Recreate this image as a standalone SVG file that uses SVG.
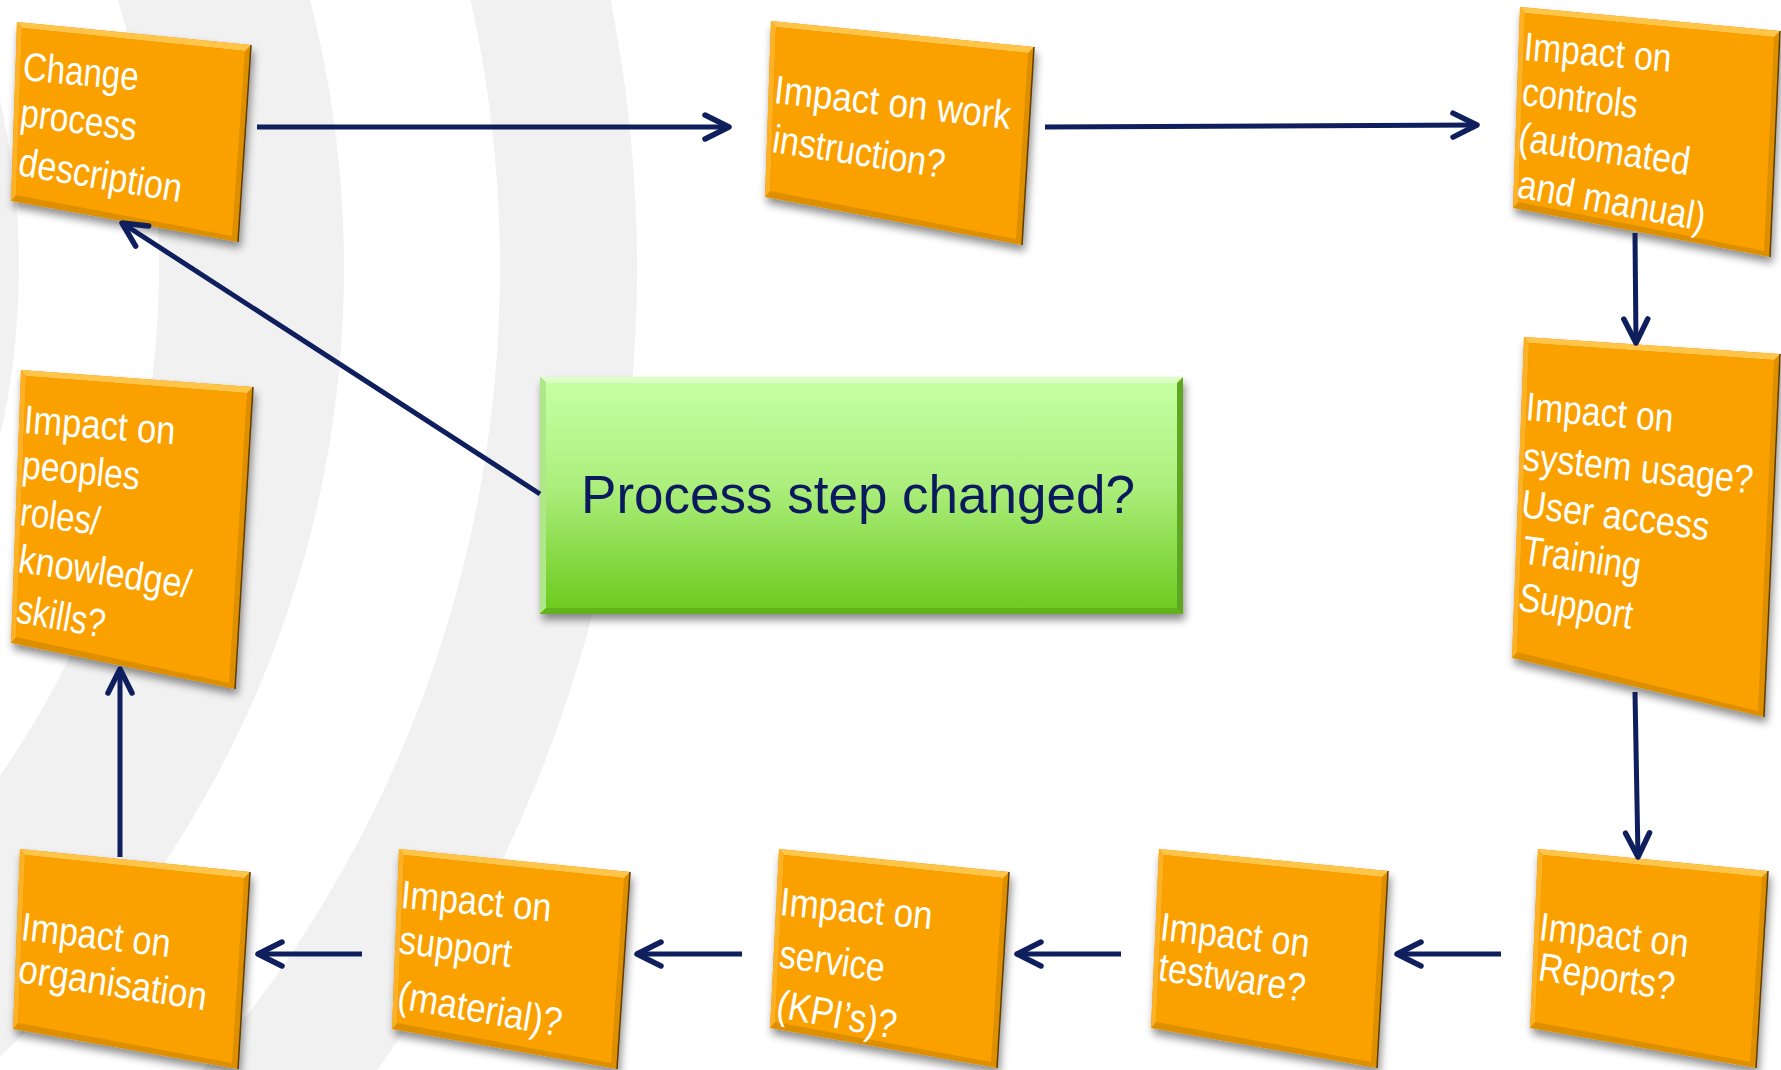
<svg xmlns="http://www.w3.org/2000/svg" width="1781" height="1070" viewBox="0 0 1781 1070">
<defs>
<style>
.rg{fill:#f1f1f1}
.rw{fill:#ffffff}
.edge{fill:#dd8f00}
.top{fill:#ffc54a}
.left{fill:#fdb226}
.face{fill:#faa102}
.rim{fill:none;stroke:#5e3c00;stroke-width:1.5}
.lbl{font-family:"Liberation Sans",Arial,sans-serif;font-size:40px;fill:#ffffff}
.conn{fill:none;stroke:#0f1f5e;stroke-width:5;marker-end:url(#ah)}
.main{font-family:"Liberation Sans",Arial,sans-serif;font-size:53px;fill:#0b1a5c}
</style>
<filter id="shadow" x="-20%" y="-20%" width="140%" height="150%">
<feGaussianBlur in="SourceAlpha" stdDeviation="4"/>
<feOffset dx="2" dy="6"/>
<feComponentTransfer><feFuncA type="linear" slope="0.45"/></feComponentTransfer>
<feMerge><feMergeNode/><feMergeNode in="SourceGraphic"/></feMerge>
</filter>
<linearGradient id="gface" x1="0" y1="0" x2="0" y2="1">
<stop offset="0" stop-color="#c6ffa2"/>
<stop offset="0.45" stop-color="#adef7e"/>
<stop offset="1" stop-color="#6dcb1f"/>
</linearGradient>
<marker id="ah" markerUnits="userSpaceOnUse" viewBox="-30 -16 36 32" refX="0" refY="0" markerWidth="36" markerHeight="32" orient="auto">
<path d="M-24,-12 L0,0 L-24,12" fill="none" stroke="#0f1f5e" stroke-width="5.5" stroke-linecap="round" stroke-linejoin="round"/>
</marker>
</defs>
<rect width="1781" height="1070" fill="#ffffff"/>
<g id="background">
<circle class="rg" cx="-731" cy="268" r="1368"/>
<circle class="rw" cx="-731" cy="268" r="1231"/>
<circle class="rg" cx="-731" cy="268" r="1075"/>
<circle class="rw" cx="-731" cy="268" r="890"/>
<circle class="rg" cx="-731" cy="268" r="750"/>
</g>
<g id="nodes">
<g id="n-change">
<g filter="url(#shadow)">
<polygon class="edge" points="17,22 251,45 238,242 11,201"/>
<polygon class="top" points="17,22 251,45 245,51 22,28"/>
<polygon class="left" points="17,22 22,28 16,195 11,201"/>
<polygon class="face" points="22,28 245,51 232,236 16,195"/>
<path class="rim" d="M251,45 L238,242"/>
</g>
<text class="lbl" transform="translate(22 80) rotate(5.1)" textLength="116" lengthAdjust="spacingAndGlyphs">Change</text>
<text class="lbl" transform="translate(19 126) rotate(7.2)" textLength="117" lengthAdjust="spacingAndGlyphs">process</text>
<text class="lbl" transform="translate(17 175) rotate(9.5)" textLength="165" lengthAdjust="spacingAndGlyphs">description</text>
</g>
<g id="n-work">
<g filter="url(#shadow)">
<polygon class="edge" points="771,21 1034,47 1022,245 765,197"/>
<polygon class="top" points="771,21 1034,47 1028,53 776,27"/>
<polygon class="left" points="771,21 776,27 770,191 765,197"/>
<polygon class="face" points="776,27 1028,53 1016,239 770,191"/>
<path class="rim" d="M1034,47 L1022,245"/>
</g>
<text class="lbl" transform="translate(773 103) rotate(6.3)" textLength="238" lengthAdjust="spacingAndGlyphs">Impact on work</text>
<text class="lbl" transform="translate(771 152) rotate(8.6)" textLength="174" lengthAdjust="spacingAndGlyphs">instruction?</text>
</g>
<g id="n-controls">
<g filter="url(#shadow)">
<polygon class="edge" points="1520,7 1780,31 1770,257 1513,208"/>
<polygon class="top" points="1520,7 1780,31 1774,37 1525,13"/>
<polygon class="left" points="1520,7 1525,13 1518,202 1513,208"/>
<polygon class="face" points="1525,13 1774,37 1764,251 1518,202"/>
<path class="rim" d="M1780,31 L1770,257"/>
</g>
<text class="lbl" transform="translate(1523 60) rotate(4.6)" textLength="148" lengthAdjust="spacingAndGlyphs">Impact on</text>
<text class="lbl" transform="translate(1521 105) rotate(6.5)" textLength="116" lengthAdjust="spacingAndGlyphs">controls</text>
<text class="lbl" transform="translate(1517 150) rotate(8.4)" textLength="173" lengthAdjust="spacingAndGlyphs">(automated</text>
<text class="lbl" transform="translate(1516 197) rotate(10.3)" textLength="190" lengthAdjust="spacingAndGlyphs">and manual)</text>
</g>
<g id="n-peoples">
<g filter="url(#shadow)">
<polygon class="edge" points="21,370 253,387 235,689 11,643"/>
<polygon class="top" points="21,370 253,387 247,393 26,376"/>
<polygon class="left" points="21,370 26,376 16,637 11,643"/>
<polygon class="face" points="26,376 247,393 229,683 16,637"/>
<path class="rim" d="M253,387 L235,689"/>
</g>
<text class="lbl" transform="translate(23 433) rotate(4.3)" textLength="152" lengthAdjust="spacingAndGlyphs">Impact on</text>
<text class="lbl" transform="translate(21 478) rotate(5.7)" textLength="118" lengthAdjust="spacingAndGlyphs">peoples</text>
<text class="lbl" transform="translate(19 525) rotate(7.1)" textLength="80" lengthAdjust="spacingAndGlyphs">roles/</text>
<text class="lbl" transform="translate(17 572) rotate(8.6)" textLength="174" lengthAdjust="spacingAndGlyphs">knowledge/</text>
<text class="lbl" transform="translate(15 622) rotate(10.1)" textLength="89" lengthAdjust="spacingAndGlyphs">skills?</text>
</g>
<g id="n-system">
<g filter="url(#shadow)">
<polygon class="edge" points="1524,337 1780,354 1764,717 1512,658"/>
<polygon class="top" points="1524,337 1780,354 1774,360 1529,343"/>
<polygon class="left" points="1524,337 1529,343 1517,652 1512,658"/>
<polygon class="face" points="1529,343 1774,360 1758,711 1517,652"/>
<path class="rim" d="M1780,354 L1764,717"/>
</g>
<text class="lbl" transform="translate(1525 420) rotate(4.5)" textLength="148" lengthAdjust="spacingAndGlyphs">Impact on</text>
<text class="lbl" transform="translate(1522 470) rotate(5.8)" textLength="231" lengthAdjust="spacingAndGlyphs">system usage?</text>
<text class="lbl" transform="translate(1520 517) rotate(7.1)" textLength="189" lengthAdjust="spacingAndGlyphs">User access</text>
<text class="lbl" transform="translate(1521 563) rotate(8.3)" textLength="119" lengthAdjust="spacingAndGlyphs">Training</text>
<text class="lbl" transform="translate(1517 610) rotate(9.5)" textLength="115" lengthAdjust="spacingAndGlyphs">Support</text>
</g>
<g id="n-reports">
<g filter="url(#shadow)">
<polygon class="edge" points="1538,849 1768,871 1756,1068 1530,1028"/>
<polygon class="top" points="1538,849 1768,871 1762,877 1543,855"/>
<polygon class="left" points="1538,849 1543,855 1535,1022 1530,1028"/>
<polygon class="face" points="1543,855 1762,877 1750,1062 1535,1022"/>
<path class="rim" d="M1768,871 L1756,1068"/>
</g>
<text class="lbl" transform="translate(1538 940) rotate(6.6)" textLength="150" lengthAdjust="spacingAndGlyphs">Impact on</text>
<text class="lbl" transform="translate(1537 980) rotate(8.5)" textLength="137" lengthAdjust="spacingAndGlyphs">Reports?</text>
</g>
<g id="n-testware">
<g filter="url(#shadow)">
<polygon class="edge" points="1159,849 1388,871 1377,1068 1151,1028"/>
<polygon class="top" points="1159,849 1388,871 1382,877 1164,855"/>
<polygon class="left" points="1159,849 1164,855 1156,1022 1151,1028"/>
<polygon class="face" points="1164,855 1382,877 1371,1062 1156,1022"/>
<path class="rim" d="M1388,871 L1377,1068"/>
</g>
<text class="lbl" transform="translate(1159 940) rotate(6.6)" textLength="150" lengthAdjust="spacingAndGlyphs">Impact on</text>
<text class="lbl" transform="translate(1157 980) rotate(8.5)" textLength="148" lengthAdjust="spacingAndGlyphs">testware?</text>
</g>
<g id="n-service">
<g filter="url(#shadow)">
<polygon class="edge" points="779,849 1009,872 997,1068 770,1028"/>
<polygon class="top" points="779,849 1009,872 1003,878 784,855"/>
<polygon class="left" points="779,849 784,855 775,1022 770,1028"/>
<polygon class="face" points="784,855 1003,878 991,1062 775,1022"/>
<path class="rim" d="M1009,872 L997,1068"/>
</g>
<text class="lbl" transform="translate(779 915) rotate(5.4)" textLength="153" lengthAdjust="spacingAndGlyphs">Impact on</text>
<text class="lbl" transform="translate(778 967) rotate(7.9)" textLength="106" lengthAdjust="spacingAndGlyphs">service</text>
<text class="lbl" transform="translate(775 1017) rotate(10.3)" textLength="121" lengthAdjust="spacingAndGlyphs">(KPI’s)?</text>
</g>
<g id="n-support">
<g filter="url(#shadow)">
<polygon class="edge" points="399,849 630,872 617,1069 392,1029"/>
<polygon class="top" points="399,849 630,872 624,878 404,855"/>
<polygon class="left" points="399,849 404,855 397,1023 392,1029"/>
<polygon class="face" points="404,855 624,878 611,1063 397,1023"/>
<path class="rim" d="M630,872 L617,1069"/>
</g>
<text class="lbl" transform="translate(400 908) rotate(5.1)" textLength="151" lengthAdjust="spacingAndGlyphs">Impact on</text>
<text class="lbl" transform="translate(398 953) rotate(7.2)" textLength="113" lengthAdjust="spacingAndGlyphs">support</text>
<text class="lbl" transform="translate(396 1008) rotate(9.8)" textLength="166" lengthAdjust="spacingAndGlyphs">(material)?</text>
</g>
<g id="n-organisation">
<g filter="url(#shadow)">
<polygon class="edge" points="20,849 250,872 238,1069 13,1029"/>
<polygon class="top" points="20,849 250,872 244,878 25,855"/>
<polygon class="left" points="20,849 25,855 18,1023 13,1029"/>
<polygon class="face" points="25,855 244,878 232,1063 18,1023"/>
<path class="rim" d="M250,872 L238,1069"/>
</g>
<text class="lbl" transform="translate(20 940) rotate(6.6)" textLength="150" lengthAdjust="spacingAndGlyphs">Impact on</text>
<text class="lbl" transform="translate(17 982) rotate(8.6)" textLength="190" lengthAdjust="spacingAndGlyphs">organisation</text>
</g>
<g id="n-process-step">
<g filter="url(#shadow)">
<rect x="540" y="377" width="643" height="237" fill="#5ea724"/>
<polygon points="540,377 1183,377 1177,383 546,383" fill="#dcffc6"/>
<polygon points="540,377 546,383 546,608 540,614" fill="#aee889"/>
<polygon points="540,614 546,608 1177,608 1183,614" fill="#63b21f"/>
<rect x="546" y="383" width="631" height="225" fill="url(#gface)"/>
</g>
<text class="main" x="858" y="513" text-anchor="middle">Process step changed?</text>
</g>
</g>
<g id="connectors">
<path class="conn" d="M257,127 L729,127"/>
<path class="conn" d="M1045,127 L1477,125"/>
<path class="conn" d="M1635,233 L1636,343"/>
<path class="conn" d="M1635,692 L1638,857"/>
<path class="conn" d="M1501,954 L1397,954"/>
<path class="conn" d="M1121,954 L1017,954"/>
<path class="conn" d="M742,954 L637,954"/>
<path class="conn" d="M362,954 L258,954"/>
<path class="conn" d="M120,857 L120,669"/>
<path class="conn" d="M540,494 L122,223"/>
</g>
</svg>
